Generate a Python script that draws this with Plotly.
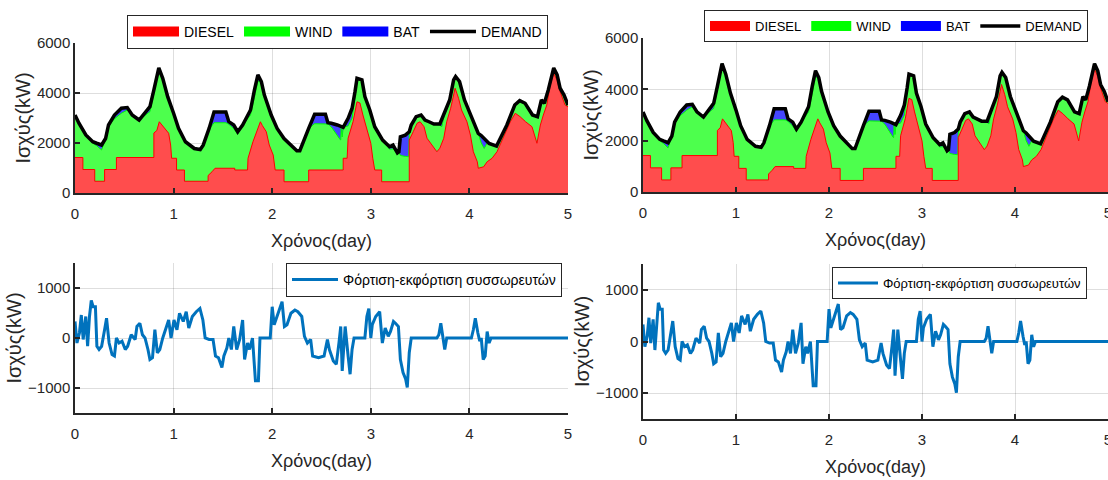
import plotly.graph_objects as go

# ---------------- data ----------------
# upper panels: time (day), demand (kW), battery discharge shown as BAT area (kW)
t_top = [0.00, 0.04, 0.11, 0.18, 0.22, 0.27, 0.31, 0.34, 0.40, 0.47, 0.53, 0.58, 0.65, 0.71,
         0.76, 0.80, 0.85, 0.89, 0.94, 1.00, 1.05, 1.12, 1.21, 1.27, 1.30, 1.36, 1.41, 1.53,
         1.56, 1.61, 1.65, 1.70, 1.78, 1.82, 1.855, 1.89, 1.92, 1.99, 2.05, 2.12, 2.19, 2.25,
         2.28, 2.32, 2.37, 2.43, 2.54, 2.565, 2.60, 2.66, 2.69, 2.695, 2.70, 2.71, 2.72, 2.77,
         2.81, 2.84, 2.86, 2.91, 2.94, 2.99, 3.04, 3.12, 3.19, 3.225, 3.27, 3.285, 3.30, 3.35,
         3.385, 3.39, 3.41, 3.46, 3.51, 3.55, 3.59, 3.64, 3.70, 3.72, 3.75, 3.80, 3.84, 3.86,
         3.90, 3.95, 4.02, 4.09, 4.12, 4.15, 4.18, 4.20, 4.275, 4.31, 4.38, 4.46, 4.51, 4.565,
         4.64, 4.69, 4.73, 4.76, 4.80, 4.855, 4.89, 4.92, 4.96, 5.00]
demand = [3120, 2790, 2320, 2050, 1990, 1920, 2180, 2720, 3120, 3390, 3415, 3120, 2920, 3190,
          3455, 4125, 5000, 4590, 3855, 3190, 2585, 2050, 1780, 1740, 1915, 2585, 3240, 3240,
          2850, 2720, 2450, 2720, 3320, 4125, 4725, 4460, 3925, 3120, 2585, 2180, 1915, 1690,
          1690, 2115, 2585, 3150, 3150, 2810, 2790, 2720, 2680, 2670, 2660, 2640, 2625, 2985,
          3390, 4055, 4590, 4525, 3855, 3320, 2650, 2115, 1850, 1915, 1605, 1650, 2250, 2315,
          2400, 2450, 2720, 3055, 3120, 2920, 2850, 2760, 2760, 2950, 3190, 3720, 4525, 4660,
          4460, 3720, 3055, 2385, 2300, 2180, 2100, 1980, 1875, 2180, 2720, 3520, 3695, 3590,
          3120, 3055, 3720, 3590, 4125, 5000, 4725, 4190, 3920, 3520]
bat_out = [0, 0, 0, 60, 100, 200, 0, 50, 150, 200, 100, 0, 0, 100,
           200, 150, 0, 0, 0, 0, 0, 0, 0, 0, 0, 50, 430, 430,
           100, 150, 100, 0, 200, 300, 250, 0, 0, 0, 0, 0, 0, 0,
           0, 0, 0, 380, 380, 50, 150, 450, 550, 550, 50, 400, 0, 300,
           400, 200, 0, 0, 0, 0, 0, 0, 100, 150, 0, 0, 750, 850,
           950, 150, 0, 0, 0, 0, 0, 0, 50, 300, 0, 0, 0, 0,
           0, 0, 0, 0, 300, 400, 100, 0, 0, 0, 0, 0, 0, 0,
           0, 0, 0, 0, 0, 0, 0, 0, 0, 0]

# diesel output (kW) with its own time points (steps have repeated times)
t_diesel = [0.00, 0.08, 0.08, 0.20, 0.20, 0.30, 0.30, 0.42, 0.42, 0.80, 0.80, 0.83, 0.855, 0.90,
            0.95, 0.97, 0.98, 1.03, 1.03, 1.11, 1.11, 1.35, 1.35, 1.39, 1.42, 1.62, 1.62, 1.75,
            1.755, 1.805, 1.856, 1.88, 1.90, 1.94, 1.97, 2.01, 2.03, 2.12, 2.12, 2.37, 2.37, 2.72,
            2.72, 2.76, 2.77, 2.82, 2.86, 2.89, 2.92, 2.97, 3.00, 3.02, 3.04, 3.11, 3.11, 3.39,
            3.39, 3.43, 3.47, 3.50, 3.54, 3.57, 3.62, 3.67, 3.70, 3.74, 3.77, 3.81, 3.84, 3.855,
            3.89, 3.92, 3.975, 4.01, 4.04, 4.08, 4.09, 4.145, 4.18, 4.23, 4.28, 4.31, 4.365, 4.415,
            4.465, 4.515, 4.57, 4.635, 4.685, 4.72, 4.75, 4.785, 4.82, 4.855, 4.89, 4.92, 4.97, 5.00]
diesel = [1420, 1420, 940, 940, 470, 470, 940, 940, 1420, 1420, 2400, 2500, 2850, 2650,
          2390, 1920, 1390, 1390, 920, 920, 470, 470, 700, 850, 990, 990, 920, 920,
          1390, 2050, 2650, 2850, 2700, 2450, 1920, 1520, 920, 920, 450, 450, 920, 920,
          1390, 1390, 2190, 2850, 3650, 3600, 3120, 2450, 1990, 1390, 920, 920, 450, 450,
          2120, 2450, 2790, 2850, 2650, 2190, 1920, 1650, 1790, 2190, 2850, 3390, 3920, 4190,
          3790, 3320, 2850, 2320, 1650, 1250, 990, 1050, 1250, 1390, 1650, 1920, 2450, 2850,
          3190, 3050, 2850, 2650, 1990, 2720, 3120, 3520, 4320, 4790, 4500, 4050, 3520, 3450]

# lower panels: battery charge/discharge power (kW)
t_bat = [0.00, 0.02, 0.045, 0.064, 0.083, 0.109, 0.128, 0.147, 0.165, 0.184, 0.207, 0.222, 0.244,
         0.27, 0.30, 0.32, 0.346, 0.376, 0.40, 0.42, 0.447, 0.477, 0.51, 0.534, 0.57, 0.61, 0.628,
         0.658, 0.684, 0.71, 0.74, 0.76, 0.786, 0.81, 0.835, 0.86, 0.89, 0.93, 0.95, 0.974, 1.004,
         1.034, 1.06, 1.098, 1.128, 1.154, 1.19, 1.23, 1.267, 1.297, 1.32, 1.36, 1.40, 1.425,
         1.455, 1.49, 1.51, 1.54, 1.56, 1.586, 1.61, 1.64, 1.67, 1.70, 1.72, 1.75, 1.77, 1.80,
         1.83, 1.86, 1.876, 1.98, 2.00, 2.02, 2.05, 2.075, 2.10, 2.124, 2.15, 2.19, 2.23, 2.26,
         2.30, 2.327, 2.357, 2.39, 2.41, 2.47, 2.526, 2.56, 2.58, 2.62, 2.65, 2.677, 2.695, 2.71,
         2.74, 2.77, 2.79, 2.81, 2.83, 2.94, 2.96, 2.98, 3.00, 3.015, 3.05, 3.09, 3.117, 3.146,
         3.177, 3.20, 3.23, 3.25, 3.28, 3.30, 3.327, 3.353, 3.37, 3.39, 3.41, 3.67, 3.69, 3.71,
         3.73, 3.75, 3.77, 4.02, 4.04, 4.06, 4.086, 4.105, 4.12, 4.14, 4.16, 4.18, 4.20, 4.22, 5.00]
battery = [330, -100, 100, 460, -30, 430, -165, 430, 750, 625, 625, -165, -230,
           -165, 165, 395, -100, -330, -360, 0, -100, -65, -230, -165, 65, -30, 230,
           295, 65, 0, -230, -430, -395, 165, -295, -230, 0, 230, 360, 0, 360,
           165, 495, 330, 525, 200, 430, 525, 590, 360, 0, -30, -30, -360,
           -395, -590, -360, -200, 0, -230, 230, -230, -30, 360, -430, -100, -230, 0,
           -855, -855, 0, 0, 625, 265, 430, 590, 725, 230, 265, 495, 560, 525,
           430, 33, -100, -30, -360, -395, -360, -30, -230, -460, -525, -100, 230, -660,
           230, -360, -725, -230, 0, 0, 430, 590, 0, 265, 430, 525, -100, 200,
           33, 130, 330, 295, 230, -430, -690, -820, -990, -295, 0, 0, 65, 295,
           0, -230, 0, 0, 165, 395, 100, -65, 0, -430, -360, 130, -100, 0, 0]

x_ticks = [0, 1, 2, 3, 4, 5]
top_y_ticks = [0, 2000, 4000, 6000]
bot_y_ticks = [-1000, 0, 1000]
x_title = "Χρόνος(day)"
y_title = "Ισχύς(kW)"
bat_label = "Φόρτιση-εκφόρτιση συσσωρευτών"

# derived: top of the wind layer (demand minus battery discharge)
wind_top = [d - b for d, b in zip(demand, bat_out)]

# ---------------- styling ----------------
FONT = "Liberation Sans, Arial, Helvetica, sans-serif"
TXT = "#262626"
RED_FILL, GREEN_FILL, BLUE_FILL = "#FF4D4D", "#4DFF4D", "#4545FF"
BAT_LINE = "#0072BD"

fig = go.Figure()

panels_top = [("x", "y", "legend"), ("x2", "y2", "legend2")]
panels_bot = [("x3", "y3", "legend3"), ("x4", "y4", "legend4")]

for xa, ya, lg in panels_top:
    fig.add_trace(go.Scatter(x=t_top, y=demand, xaxis=xa, yaxis=ya, mode="lines",
                             fill="tozeroy", fillcolor=BLUE_FILL, line=dict(width=1, color="#0000FF"),
                             showlegend=False, hoverinfo="skip"))
    fig.add_trace(go.Scatter(x=t_top, y=wind_top, xaxis=xa, yaxis=ya, mode="lines",
                             fill="tozeroy", fillcolor=GREEN_FILL, line=dict(width=1, color="#00FF00"),
                             showlegend=False, hoverinfo="skip"))
    fig.add_trace(go.Scatter(x=t_diesel, y=diesel, xaxis=xa, yaxis=ya, mode="lines",
                             fill="tozeroy", fillcolor=RED_FILL, line=dict(width=1, color="#FF0000"),
                             showlegend=False, hoverinfo="skip"))
    fig.add_trace(go.Scatter(x=t_top, y=demand, xaxis=xa, yaxis=ya, mode="lines",
                             line=dict(width=3.5, color="black"), name="DEMAND",
                             legend=lg, legendrank=4))
    for nm, col, rk in [("DIESEL", "#FF0000", 1), ("WIND", "#00FF00", 2), ("BAT", "#0000FF", 3)]:
        fig.add_trace(go.Scatter(x=[None], y=[None], xaxis=xa, yaxis=ya, mode="lines",
                                 line=dict(width=16, color=col), name=nm, legend=lg, legendrank=rk))

for xa, ya, lg in panels_bot:
    fig.add_trace(go.Scatter(x=t_bat, y=battery, xaxis=xa, yaxis=ya, mode="lines",
                             line=dict(width=3, color=BAT_LINE), name=bat_label, legend=lg))

W, H = 1108, 480


def px_x(p):
    return p / W


def px_y(p):
    return 1 - p / H


common_axis = dict(showgrid=True, gridcolor="rgba(0,0,0,0.13)", gridwidth=1,
                   showline=True, linecolor=TXT, linewidth=1.5, mirror=False,
                   ticks="inside", ticklen=5, tickcolor=TXT, tickwidth=1.5,
                   zeroline=False, layer="above traces", automargin=False,
                   tickfont=dict(family=FONT, size=15, color=TXT))


def xax(domain, anchor):
    return dict(common_axis, domain=domain, anchor=anchor, range=[0, 5], tickvals=x_ticks,
                ticklabelstandoff=6, ticklabeloverflow="allow",
                title=dict(text=x_title, font=dict(family=FONT, size=18, color=TXT), standoff=14))


def yax(domain, anchor, rng, tv):
    return dict(common_axis, domain=domain, anchor=anchor, range=rng, tickvals=tv,
                title=dict(text=y_title, font=dict(family=FONT, size=20, color=TXT), standoff=1))


legend_common = dict(orientation="h", bgcolor="white", bordercolor=TXT, borderwidth=1,
                     font=dict(family=FONT, size=14, color="black"), itemwidth=46,
                     xanchor="left", yanchor="top", tracegroupgap=0, traceorder="normal")
legend_small = dict(legend_common, font=dict(family=FONT, size=13, color="black"), itemwidth=40)

fig.update_layout(
    width=W, height=H, margin=dict(l=0, r=0, t=0, b=0, autoexpand=False),
    paper_bgcolor="white", plot_bgcolor="white",
    font=dict(family=FONT, color=TXT),
    xaxis=xax([px_x(75), px_x(568)], "y"),
    yaxis=yax([px_y(193), px_y(43)], "x", [0, 6000], top_y_ticks),
    xaxis2=xax([px_x(643), 1.0], "y2"),
    yaxis2=yax([px_y(192), px_y(38)], "x2", [0, 6000], top_y_ticks),
    xaxis3=xax([px_x(75), px_x(568)], "y3"),
    yaxis3=yax([px_y(413), px_y(263)], "x3", [-1500, 1500], bot_y_ticks),
    xaxis4=xax([px_x(643), 1.0], "y4"),
    yaxis4=yax([px_y(419), px_y(264)], "x4", [-1500, 1500], bot_y_ticks),
    legend=dict(legend_common, x=px_x(127), y=px_y(15)),
    legend2=dict(legend_small, x=px_x(704), y=px_y(10)),
    legend3=dict(legend_common, x=px_x(286), y=px_y(263)),
    legend4=dict(legend_small, x=px_x(832), y=px_y(267)),
    showlegend=True,
)

fig.write_html("out.html")
